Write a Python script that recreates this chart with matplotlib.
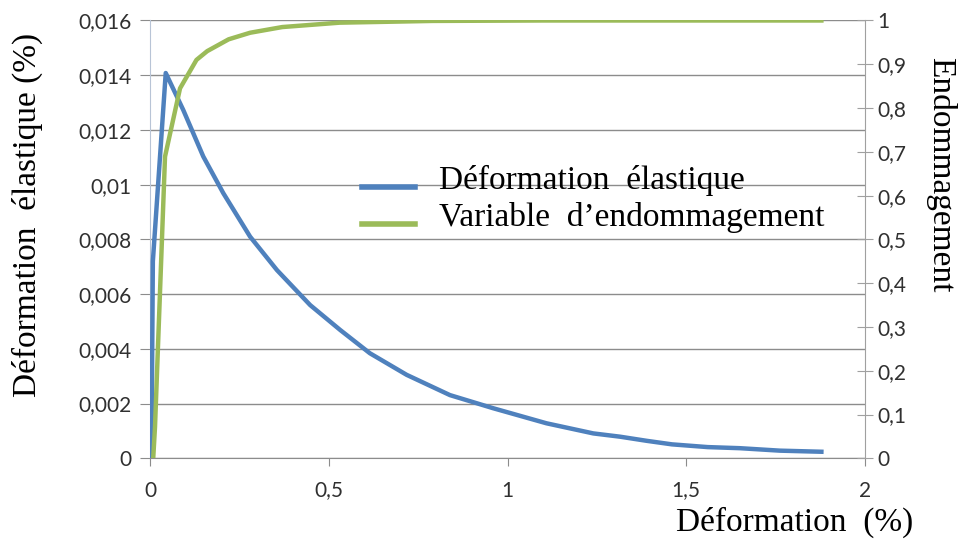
import matplotlib
matplotlib.use('Agg')
import matplotlib.pyplot as plt
from matplotlib.ticker import FuncFormatter, MultipleLocator

# Elastic strain vs total strain
strain_el_x = [0.004, 0.008, 0.044, 0.093, 0.149, 0.205, 0.280, 0.355, 0.448, 0.532, 0.615,
               0.718, 0.839, 0.960, 1.109, 1.24, 1.315, 1.389, 1.46, 1.56, 1.650, 1.762, 1.878]
strain_el_y = [0.0, 0.0072, 0.01408, 0.01273, 0.01103, 0.00969, 0.0081, 0.00688, 0.0056, 0.00469,
               0.00384, 0.00305, 0.00231, 0.00183, 0.00128, 0.00091, 0.00079, 0.00064, 0.00051,
               0.00041, 0.00037, 0.00028, 0.00024]

# Damage variable vs total strain
damage_x = [0.009, 0.014, 0.042, 0.084, 0.13, 0.16, 0.22, 0.28, 0.37, 0.53, 0.79, 1.1, 1.878]
damage_y = [0.0, 0.072, 0.689, 0.845, 0.91, 0.93, 0.957, 0.972, 0.985, 0.995, 0.999, 1.0, 1.0]

blue = '#4F81BD'
green = '#9BBB59'
tick_font = 'Lato'
label_font = 'Liberation Serif'


def comma(v, pos):
    return ('%g' % v).replace('.', ',')


fig = plt.figure(figsize=(9.6, 5.42), dpi=100)
ax = fig.add_axes([0.15625, 0.1544, 0.7448, 0.8078])
ax2 = ax.twinx()

l1, = ax.plot(strain_el_x, strain_el_y, color=blue, lw=3.2, solid_joinstyle='round',
              label='Déformation  élastique', zorder=3)
l2, = ax2.plot(damage_x, damage_y, color=green, lw=3.2, solid_joinstyle='round',
               label='Variable  d\u2019endommagement', zorder=3)

ax.set_xlim(0, 2)
ax.set_ylim(0, 0.016)
ax2.set_ylim(0, 1)
ax.xaxis.set_major_locator(MultipleLocator(0.5))
ax.yaxis.set_major_locator(MultipleLocator(0.002))
ax2.yaxis.set_major_locator(MultipleLocator(0.1))
for a in (ax.xaxis, ax.yaxis, ax2.yaxis):
    a.set_major_formatter(FuncFormatter(comma))

ax.grid(axis='y', color='#8c8c8c', lw=1.0)
ax.set_axisbelow(True)

for sp in ('top', 'right'):
    ax.spines[sp].set_visible(False)
    ax2.spines[sp].set_visible(sp == 'right')
ax2.spines['left'].set_visible(False)
ax2.spines['bottom'].set_visible(False)
ax.spines['left'].set_color('#b8c4d6')
ax.spines['bottom'].set_color('#8c8c8c')
ax2.spines['right'].set_color('#a0a0a0')

ax.tick_params(axis='x', length=6, color='#8c8c8c', labelsize=15, labelcolor='#303030', pad=10)
ax.tick_params(axis='y', length=7, color='#8c8c8c', labelsize=15, labelcolor='#303030', pad=6)
ax2.tick_params(axis='y', direction='inout', length=12, color='#a0a0a0', labelsize=15,
                labelcolor='#303030', pad=3)
for lab in ax.get_xticklabels() + ax.get_yticklabels() + ax2.get_yticklabels():
    lab.set_fontfamily(tick_font)

fig.text(0.029, 0.603, 'Déformation  élastique (%)', rotation=90, ha='center', va='center',
         fontsize=24, family=label_font)
fig.text(0.98, 0.677, 'Endommagement', rotation=270, ha='center', va='center',
         fontsize=24, family=label_font)
fig.text(0.951, 0.037, 'Déformation  (%)', ha='right', va='center',
         fontsize=24, family=label_font)

leg = ax.legend(handles=[l1, l2], loc='upper left', bbox_to_anchor=(0.254, 0.739),
                frameon=False, prop={'family': label_font, 'size': 24},
                handlelength=1.6, handletextpad=0.72, labelspacing=0.18)
# sit the legend strokes on the text baseline
for line in leg.get_lines():
    line.set_linewidth(4.0)
    line.set_ydata([1.0] * len(line.get_xdata()))

fig.savefig('out.png', dpi=100)
